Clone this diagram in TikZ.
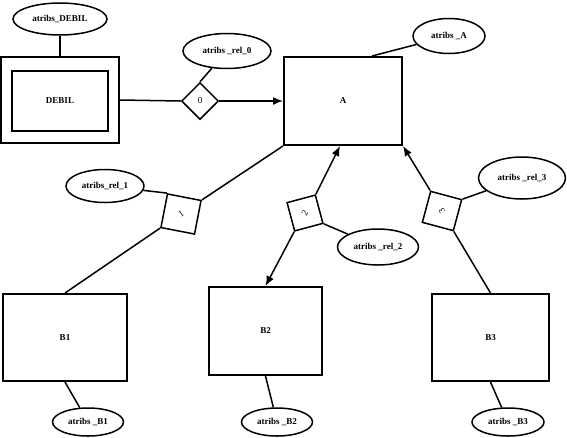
\documentclass[tikz,border=0pt]{standalone}
\usepackage{fontspec}
\setmainfont{Liberation Serif}
\usetikzlibrary{shapes.geometric,arrows.meta}

\begin{document}
\begin{tikzpicture}[x=1pt, y=-1pt, >={Latex[length=10pt,width=8pt]},
	box/.style={draw, line width=2pt, font=\fontsize{9}{10}\selectfont\bfseries},
	attr/.style={draw, ellipse, line width=1.5pt, inner sep=0pt, font=\fontsize{9}{10}\selectfont\bfseries},
	rel/.style={draw, diamond, line width=1.5pt, inner sep=0pt, font=\fontsize{9}{10}\selectfont},
	conn/.style={line width=1.5pt}]
	\useasboundingbox (0,0) rectangle (567,437);
	\node[box, minimum width=118pt, minimum height=86pt] (DEBIL) at (60,100) {};
	\node[box, minimum width=96pt, minimum height=60pt] (DEBILin) at (60,101) {DEBIL};
	\node[box, minimum width=118pt, minimum height=88pt] (A) at (343,101) {A};
	\node[box, minimum width=124pt, minimum height=87pt] (B1) at (65,337.5) {B1};
	\node[box, minimum width=113pt, minimum height=88pt] (B2) at (265.5,331) {B2};
	\node[box, minimum width=117pt, minimum height=87pt] (B3) at (490.5,337.5) {B3};
	\node[rel, minimum size=37pt] (d0) at (200,101) {0};
	\node[rel, minimum size=49pt, rotate=34] (d1) at (181,214) {1};
	\node[rel, minimum size=42pt, rotate=60] (d2) at (305,213) {2};
	\node[rel, minimum size=46pt, rotate=120] (d3) at (442,211) {3};
	\node[attr, minimum width=94pt, minimum height=32pt] (aDEBIL) at (60,19) {atribs\_DEBIL};
	\node[attr, minimum width=88pt, minimum height=35pt] (r0) at (227,51) {atribs \_rel\_0};
	\node[attr, minimum width=72pt, minimum height=35pt] (aA) at (449,36) {atribs \_A};
	\node[attr, minimum width=78pt, minimum height=33pt] (r1) at (105,186) {atribs\_rel\_1};
	\node[attr, minimum width=81pt, minimum height=36pt] (r2) at (378,247) {atribs \_rel\_2};
	\node[attr, minimum width=87pt, minimum height=42pt] (r3) at (522,178) {atribs \_rel\_3};
	\node[attr, minimum width=71pt, minimum height=28pt] (aB1) at (88,422) {atribs \_B1};
	\node[attr, minimum width=71pt, minimum height=28pt] (aB2) at (277,422) {atribs \_B2};
	\node[attr, minimum width=72pt, minimum height=28pt] (aB3) at (508,422) {atribs \_B3};
	\draw[conn] (aDEBIL) -- (DEBIL.north);
	\draw[conn] (DEBIL.east) -- (d0.west);
	\draw[conn, ->] (d0.east) -- (A.west);
	\draw[conn] (r0) -- (d0.north);
	\draw[conn] (aA) -- ([xshift=29pt]A.north);
	\draw[conn] (A.south west) -- (d1.east);
	\draw[conn] (d1.west) -- (B1.north);
	\draw[conn] (r1) -- (d1.north);
	\draw[conn, ->] (d2.east) -- ([xshift=-3pt]A.south);
	\draw[conn, ->] (d2.west) -- (B2.north);
	\draw[conn] (r2) -- (d2.south);
	\draw[conn, ->] (d3.east) -- (A.south east);
	\draw[conn] (d3.west) -- (B3.north);
	\draw[conn] (r3) -- (d3.south);
	\draw[conn] (B1.south) -- (aB1);
	\draw[conn] (B2.south) -- (aB2);
	\draw[conn] (B3.south) -- (aB3);
\end{tikzpicture}
\end{document}
